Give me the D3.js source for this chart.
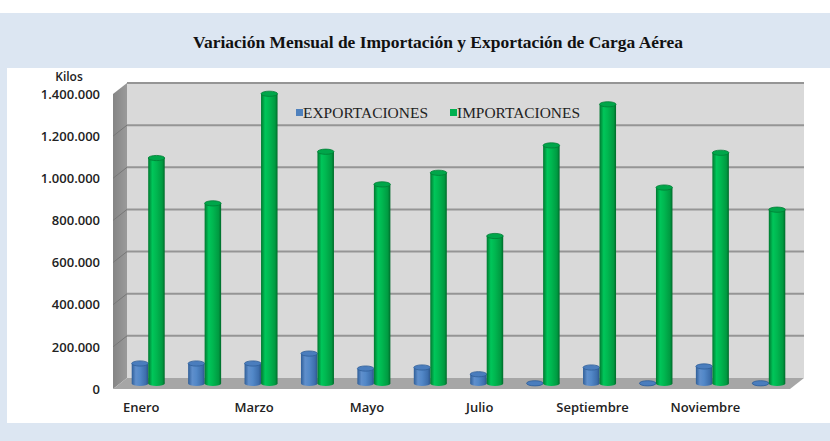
<!DOCTYPE html>
<html>
<head>
<meta charset="utf-8">
<script src="https://cdn.jsdelivr.net/npm/d3@7"></script>
<style>
  body { margin: 0; background: #ffffff; }
  svg { display: block; }
</style>
</head>
<body>
<script>
var fullWidth = 830;
var fullHeight = 441;

// chart data
var months = ["Enero", "Febrero", "Marzo", "Abril", "Mayo", "Junio",
              "Julio", "Agosto", "Septiembre", "Octubre", "Noviembre", "Diciembre"];
var series = ["EXPORTACIONES", "IMPORTACIONES"];
var exportaciones = [95000, 95000, 95000, 142000, 71000, 76000,
                     44000, 1000, 76000, 1000, 81000, 1000];
var importaciones = [1070000, 855000, 1375000, 1100000, 945000, 1000000,
                     700000, 1130000, 1325000, 930000, 1095000, 825000];
var yTicks = [0, 200000, 400000, 600000, 800000, 1000000, 1200000, 1400000];
var yTickLabels = ["0", "200.000", "400.000", "600.000", "800.000",
                   "1.000.000", "1.200.000", "1.400.000"];

// plot geometry (front plane + depth offset)
var plot = {left: 113, right: 790, top: 94, bottom: 389};
var depth = {dx: 14, dy: -11};

var svg = d3.select("body").append("svg")
    .attr("width", fullWidth)
    .attr("height", fullHeight);

// backgrounds
svg.append("rect").attr("x", 0).attr("y", 13).attr("width", fullWidth).attr("height", fullHeight - 13)
   .style("fill", "#dce6f2");
svg.append("rect").attr("x", 7).attr("y", 68).attr("width", fullWidth - 7).attr("height", 355)
   .style("fill", "#ffffff");

// title
svg.append("text")
   .attr("x", 438)
   .attr("y", 48)
   .attr("text-anchor", "middle")
   .attr("textLength", 490)
   .attr("lengthAdjust", "spacingAndGlyphs")
   .style("font-family", "'Liberation Serif', serif")
   .style("font-weight", "bold")
   .style("font-size", "16.5px")
   .style("fill", "#111")
   .text("Variación Mensual de Importación y Exportación de Carga Aérea");

var x = d3.scaleBand().domain(months).range([plot.left, plot.right]);
var xSub = d3.scaleBand().domain(series).range([0, 33]);
var y = d3.scaleLinear().domain([0, 1400000]).range([plot.bottom, plot.top]);

var defs = svg.append("defs");
function cylGrad(id, stops) {
    var g = defs.append("linearGradient").attr("id", id)
        .attr("x1", "0%").attr("x2", "100%").attr("y1", "0%").attr("y2", "0%");
    stops.forEach(function(s) {
        g.append("stop").attr("offset", s[0]).attr("stop-color", s[1]);
    });
}
cylGrad("gExp", [["0%", "#2f5e98"], ["25%", "#5f8fcc"], ["50%", "#5288c8"], ["85%", "#3d6eac"], ["100%", "#2b5588"]]);
cylGrad("gImp", [["0%", "#00782f"], ["25%", "#00c65a"], ["50%", "#00b750"], ["85%", "#009a41"], ["100%", "#006a2a"]]);
cylGrad("gWall", [["0%", "#858585"], ["100%", "#9a9a9a"]]);

// walls
var back = {x0: plot.left + depth.dx, x1: plot.right + depth.dx,
            y0: plot.top + depth.dy, y1: plot.bottom + depth.dy};

svg.append("rect")
   .attr("x", back.x0).attr("y", back.y0)
   .attr("width", back.x1 - back.x0).attr("height", back.y1 - back.y0)
   .style("fill", "#d9d9d9");

svg.append("polygon")
   .attr("points", [[plot.left, plot.bottom], [plot.left, plot.top],
                    [back.x0, back.y0], [back.x0, back.y1]].join(" "))
   .style("fill", "url(#gWall)");

svg.append("polygon")
   .attr("points", [[plot.left, plot.bottom], [plot.right, plot.bottom],
                    [back.x1, back.y1], [back.x0, back.y1]].join(" "))
   .style("fill", "#a6a6a6");

// gridlines on back wall and side wall
var grid = svg.append("g");
grid.selectAll(".gb")
    .data(yTicks.slice(1))
    .enter().append("line")
    .attr("x1", back.x0).attr("x2", back.x1)
    .attr("y1", function(d) { return y(d) + depth.dy; })
    .attr("y2", function(d) { return y(d) + depth.dy; })
    .style("stroke", "#959595").style("stroke-width", 2);
grid.selectAll(".gs")
    .data(yTicks.slice(1, -1))
    .enter().append("line")
    .attr("x1", plot.left).attr("x2", back.x0)
    .attr("y1", function(d) { return y(d); })
    .attr("y2", function(d) { return y(d) + depth.dy; })
    .style("stroke", "#777").style("stroke-width", 1);

// y axis labels
var yAxis = d3.axisLeft(y)
    .tickValues(yTicks)
    .tickFormat(function(d, i) { return yTickLabels[i]; })
    .tickSize(0)
    .tickPadding(13);
var ya = svg.append("g")
    .attr("transform", "translate(" + plot.left + ",0)")
    .call(yAxis);
ya.select(".domain").remove();
ya.selectAll("text")
  .style("font-family", "'Open Sans', sans-serif")
  .style("font-weight", 600)
  .style("font-size", "13px")
  .style("fill", "#222");

svg.append("text")
   .attr("x", 69).attr("y", 81)
   .attr("text-anchor", "middle")
   .style("font-family", "'Open Sans', sans-serif")
   .style("font-weight", 600)
   .style("font-size", "12px")
   .style("fill", "#222")
   .text("Kilos");

// x axis labels (every second month)
var xAxis = d3.axisBottom(x)
    .tickValues(months.filter(function(d, i) { return i % 2 === 0; }))
    .tickSize(0)
    .tickPadding(14);
var xa = svg.append("g")
    .attr("transform", "translate(0," + plot.bottom + ")")
    .call(xAxis);
xa.select(".domain").remove();
xa.selectAll("text")
  .style("font-family", "'Open Sans', sans-serif")
  .style("font-weight", 600)
  .style("font-size", "13px")
  .style("fill", "#222");

// cylinders, set halfway into the depth
var rows = [];
months.forEach(function(m, i) {
    rows.push({month: m, key: series[0], value: exportaciones[i]});
    rows.push({month: m, key: series[1], value: importaciones[i]});
});

var bw = xSub.bandwidth();
var ry = 2.6;
var midX = depth.dx / 2, midY = depth.dy / 2;
function barX(d) { return x(d.month) + (x.bandwidth() - 33) / 2 + xSub(d.key) + midX; }
function barBase(d) { return y(0) + midY; }
function barTop(d) { return y(d.value) + midY; }

var bars = svg.append("g").selectAll(".bar")
    .data(rows)
    .enter().append("g")
    .attr("class", "bar");

bars.append("ellipse")
    .attr("cx", function(d) { return barX(d) + bw / 2; })
    .attr("cy", barBase)
    .attr("rx", bw / 2).attr("ry", ry)
    .style("fill", function(d) { return d.key === series[0] ? "url(#gExp)" : "url(#gImp)"; });

bars.append("rect")
    .attr("x", barX)
    .attr("y", barTop)
    .attr("width", bw)
    .attr("height", function(d) { return barBase(d) - barTop(d); })
    .style("fill", function(d) { return d.key === series[0] ? "url(#gExp)" : "url(#gImp)"; });

bars.append("ellipse")
    .attr("cx", function(d) { return barX(d) + bw / 2; })
    .attr("cy", barTop)
    .attr("rx", bw / 2).attr("ry", ry)
    .style("fill", function(d) { return d.key === series[0] ? "#4a7dbd" : "#00a64a"; })
    .style("stroke", function(d) { return d.key === series[0] ? "#2f5e98" : "#007d35"; })
    .style("stroke-width", 0.8);

// legend
var legend = svg.append("g").attr("transform", "translate(296,113)");
var legItems = [{key: series[0], color: "#4f81bd", x: 0, w: 125},
                {key: series[1], color: "#00b050", x: 154, w: 123}];
var li = legend.selectAll(".legend")
    .data(legItems)
    .enter().append("g")
    .attr("transform", function(d) { return "translate(" + d.x + ",0)"; });
li.append("rect")
  .attr("x", 0).attr("y", -4)
  .attr("width", 7).attr("height", 7)
  .style("fill", function(d) { return d.color; });
li.append("text")
  .attr("x", 7).attr("y", 5)
  .attr("textLength", function(d) { return d.w; })
  .attr("lengthAdjust", "spacingAndGlyphs")
  .style("font-family", "'Liberation Serif', serif")
  .style("font-size", "14px")
  .style("fill", "#222")
  .text(function(d) { return d.key; });
</script>
</body>
</html>
